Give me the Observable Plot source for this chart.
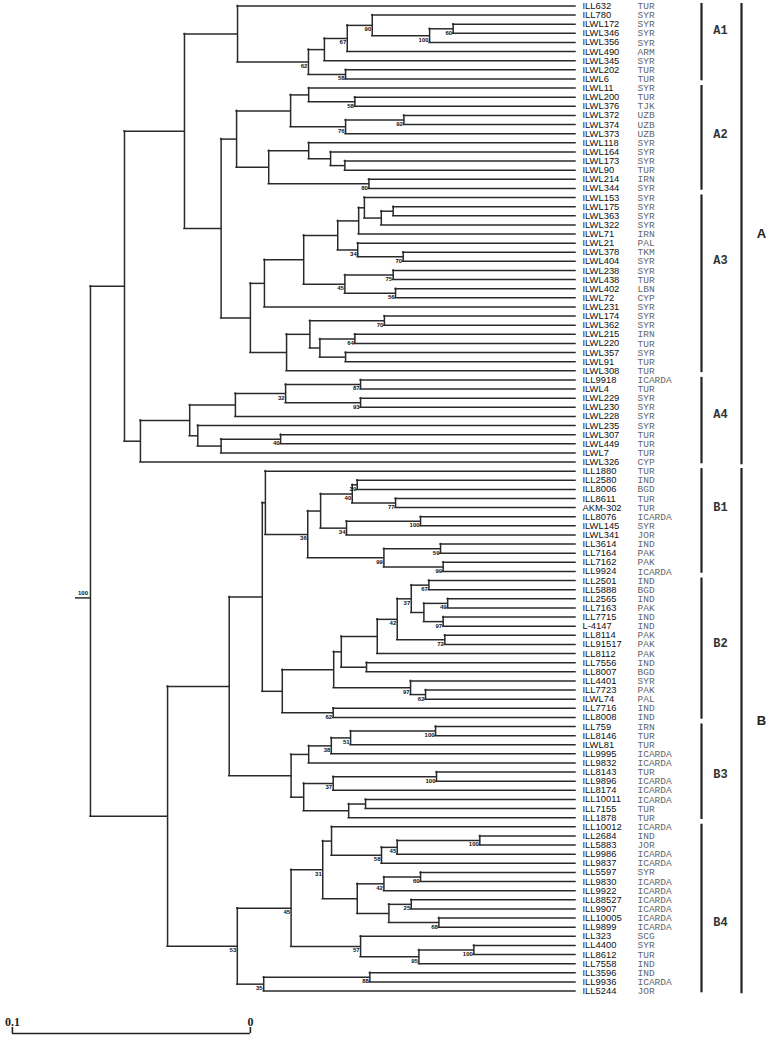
<!DOCTYPE html>
<html><head><meta charset="utf-8">
<script src="https://cdn.jsdelivr.net/npm/d3@7"></script>
<script src="https://cdn.jsdelivr.net/npm/@observablehq/plot@0.6"></script>
<style>html,body{margin:0;padding:0;background:#fff;} #chart svg{display:block;background:#fff;-webkit-font-smoothing:antialiased;}</style>
</head><body><div id="chart"></div>
<script>
// ---------- DATA ----------
const names = [
  "ILL632","ILL780","ILWL172","ILWL346","ILWL356","ILWL490","ILWL345","ILWL202","ILWL6",
  "ILWL11","ILWL200","ILWL376","ILWL372","ILWL374","ILWL373","ILWL118","ILWL164","ILWL173","ILWL90","ILWL214","ILWL344",
  "ILWL153","ILWL175","ILWL363","ILWL322","ILWL71","ILWL21","ILWL378","ILWL404","ILWL238","ILWL438","ILWL402","ILWL72","ILWL231","ILWL174","ILWL362","ILWL215","ILWL220","ILWL357","ILWL91","ILWL308",
  "ILL9918","ILWL4","ILWL229","ILWL230","ILWL228","ILWL235","ILWL307","ILWL449","ILWL7","ILWL326",
  "ILL1880","ILL2580","ILL8006","ILL8611","AKM-302","ILL8076","ILWL145","ILWL341","ILL3614","ILL7164","ILL7162","ILL9924",
  "ILL2501","ILL5888","ILL2565","ILL7163","ILL7715","L-4147","ILL8114","ILL91517","ILL8112","ILL7556","ILL8007","ILL4401","ILL7723","ILWL74","ILL7716","ILL8008",
  "ILL759","ILL8146","ILWL81","ILL9995","ILL9832","ILL8143","ILL9896","ILL8174","ILL10011","ILL7155","ILL1878",
  "ILL10012","ILL2684","ILL5883","ILL9986","ILL9837","ILL5597","ILL9830","ILL9922","ILL88527","ILL9907","ILL10005","ILL9899","ILL323","ILL4400","ILL8612","ILL7558","ILL3596","ILL9936","ILL5244"
];
const origins = [
  "TUR","SYR","SYR","SYR","SYR","ARM","SYR","TUR","TUR",
  "SYR","TUR","TJK","UZB","UZB","UZB","SYR","SYR","SYR","TUR","IRN","SYR",
  "SYR","SYR","SYR","SYR","IRN","PAL","TKM","SYR","SYR","TUR","LBN","CYP","SYR","SYR","SYR","IRN","TUR","SYR","TUR","TUR",
  "ICARDA","TUR","SYR","SYR","SYR","SYR","TUR","TUR","TUR","CYP",
  "TUR","IND","BGD","TUR","TUR","ICARDA","SYR","JOR","IND","PAK","PAK","ICARDA",
  "IND","BGD","IND","PAK","IND","IND","PAK","PAK","PAK","IND","BGD","SYR","PAK","PAL","IND","IND",
  "IRN","TUR","TUR","ICARDA","ICARDA","TUR","ICARDA","ICARDA","ICARDA","TUR","TUR",
  "ICARDA","IND","JOR","ICARDA","ICARDA","SYR","ICARDA","ICARDA","ICARDA","ICARDA","ICARDA","ICARDA","SCG","SYR","TUR","IND","IND","ICARDA","JOR"
];
// tree: [distance of node from the tips, bootstrap, ...children]; leaves are names
const tree =
[0.2038, 100,
  [0.1895, null,
    [0.1643, null,
      [0.1420, null, "ILL632",
        [0.1122, 62,
          [0.1055, null,
            [0.0959, 67,
              [0.0854, 90, "ILL780",
                [0.0613, 100, [0.0514, 60, "ILWL172", "ILWL346"], "ILWL356"]],
              "ILWL490"],
            "ILWL345"],
          [0.0966, 58, "ILWL202", "ILWL6"]]],
      [0.1489, null,
        [0.1424, null,
          [0.1197, null,
            [0.1121, null, "ILWL11", [0.0927, 58, "ILWL200", "ILWL376"]],
            [0.0966, 76, [0.0721, 92, "ILWL372", "ILWL374"], "ILWL373"]],
          [0.1289, null,
            [0.1121, null, "ILWL118", [0.1029, null, "ILWL164", [0.0969, null, "ILWL173", "ILWL90"]]],
            [0.0868, 80, "ILWL214", "ILWL344"]]],
        [0.1366, null,
          [0.1307, null,
            [0.1142, null,
              [0.0999, null,
                [0.0911, null,
                  [0.0887, null, "ILWL153", [0.0816, null, [0.0766, null, "ILWL175", "ILWL363"], "ILWL322"]],
                  "ILWL71"],
                [0.0915, 34, "ILWL21", [0.0724, 70, "ILWL378", "ILWL404"]]],
              [0.0969, 45, [0.0766, 75, "ILWL238", "ILWL438"], [0.0756, 56, "ILWL402", "ILWL72"]]],
            "ILWL231"],
          [0.1214, null,
            [0.1116, null,
              [0.0803, 70, "ILWL174", "ILWL362"],
              [0.1074, null, [0.0927, 64, "ILWL215", "ILWL220"], [0.0966, null, "ILWL357", "ILWL91"]]],
            "ILWL308"]]]],
    [0.1828, null,
      [0.1621, null,
        [0.1429, null,
          [0.1218, 32, [0.0903, 87, "ILL9918", "ILWL4"], [0.0903, 93, "ILWL229", "ILWL230"]],
          "ILWL228"],
        [0.1587, null, "ILWL235",
          [0.1489, null, [0.1239, 40, "ILWL307", "ILWL449"], "ILWL7"]]],
      "ILWL326"]],
  [0.1714, null,
    [0.1455, null,
      [0.1316, null,
        [0.1303, null, "ILL1880",
          [0.1125, 36,
            [0.1071, null,
              [0.0938, 40, [0.0917, 39, "ILL2580", "ILL8006"], [0.0756, 77, "ILL8611", "AKM-302"]],
              [0.0962, 34, [0.0651, 100, "ILL8076", "ILWL145"], "ILWL341"]],
            [0.0805, 99, [0.0567, 59, "ILL3614", "ILL7164"], [0.0556, 99, "ILL7162", "ILL9924"]]]],
        [0.1232, null,
          [0.1016, null,
            [0.0984, null,
              [0.0833, null,
                [0.0749, 42,
                  [0.0690, 37, [0.0616, 67, "ILL2501", "ILL5888"],
                    [0.0637, null, [0.0537, 49, "ILL2565", "ILL7163"], [0.0556, 97, "ILL7715", "L-4147"]]],
                  [0.0549, 72, "ILL8114", "ILL91517"]],
                "ILL8112"],
              [0.0878, null, "ILL7556", "ILL8007"]],
            [0.0693, 97, "ILL4401", [0.0630, 62, "ILL7723", "ILWL74"]]],
          [0.1018, 62, "ILL7716", "ILL8008"]]],
      [0.1195, null,
        [0.1121, null,
          [0.1026, 38, [0.0945, 51, [0.0588, 100, "ILL759", "ILL8146"], "ILWL81"], "ILL9995"],
          "ILL9832"],
        [0.1142, null,
          [0.1018, 37, [0.0584, 100, "ILL8143", "ILL9896"], "ILL8174"],
          [0.0953, null, [0.0882, null, "ILL10011", "ILL7155"], "ILL1878"]]]],
    [0.1421, 53,
      [0.1195, 45,
        [0.1062, 31,
          [0.1025, null, "ILL10012",
            [0.0815, 58, [0.0749, 45, [0.0402, 100, "ILL2684", "ILL5883"], "ILL9986"], "ILL9837"]],
          [0.0917, null,
            [0.0805, 42, [0.0651, 60, "ILL5597", "ILL9830"], "ILL9922"],
            [0.0784, null, [0.0690, 25, "ILL88527", "ILL9907"], [0.0574, 68, "ILL10005", "ILL9899"]]]],
        [0.0903, 57, "ILL323", [0.0658, 95, [0.0427, 100, "ILL4400", "ILL8612"], "ILL7558"]]],
      [0.1310, 35, [0.0864, 88, "ILL3596", "ILL9936"], "ILL5244"]]]];

const clusters = ["A1","A2","A3","A4","B1","B2","B3","B4"];
const clusterFirst = ["ILL632","ILWL11","ILWL153","ILL9918","ILL1880","ILL2501","ILL759","ILL10012"];
const clusterLast  = ["ILWL6","ILWL344","ILWL308","ILWL326","ILL9924","ILL8008","ILL1878","ILL5244"];
const groups = ["A","B"];
const groupFirst = ["ILL632","ILL1880"];
const groupLast = ["ILWL326","ILL5244"];
const scaleLength = 0.1;
const scaleLabels = ["0.1","0"];

// ---------- LAYOUT ----------
const rowOf = n => { const r = names.indexOf(n); if (r < 0) throw new Error("missing leaf " + n); return r; };
const vLines = [], hLines = [], boots = [];
let rootBoot = null;
function walk(n, isRoot) {
  if (typeof n === "string") return {row: rowOf(n), h: 0};
  const [h, b, ...kids] = n;
  const ks = kids.map(k => walk(k, false));
  const r1 = ks[0].row, r2 = ks[ks.length - 1].row;
  const row = (r1 + r2) / 2;
  vLines.push({h, r1, r2});
  ks.forEach(k => hLines.push({row: k.row, h1: h, h2: k.h}));
  if (b != null) { if (isRoot) rootBoot = b; else boots.push({h, row, b: String(b)}); }
  return {row, h};
}
const root = walk(tree, true);
const rootStemRow = 64.9;          // where the root stub is drawn
const rootStemStart = root.h + 0.0063;
const scaleBarStart = 0.2366;
const scaleRow = 112.66;

const clusterData = clusters.map((c, i) => ({c, r1: rowOf(clusterFirst[i]), r2: rowOf(clusterLast[i])}));
const clusterLabelShift = [-1.3, -0.5, -2.6, -0.8, -1.6, -0.6, 0.2, 1.5];
const groupData = groups.map((g, i) => ({g, r1: rowOf(groupFirst[i]), r2: rowOf(groupLast[i])}));

const LINE = "#2a2a2a";
const LW = 1.5;
const chart = Plot.plot({
  width: 778, height: 1038, margin: 0,
  x: {domain: [0.2416, 0], range: [0, 575], axis: null},
  y: {domain: [0, 108], range: [5.5, 990.5], axis: null},
  style: {background: "#fff"},
  marks: [
    Plot.ruleX(vLines, {x: "h", y1: "r1", y2: "r2", stroke: LINE, strokeWidth: LW, strokeLinecap: "square"}),
    Plot.ruleY(hLines, {y: "row", x1: "h1", x2: "h2", stroke: LINE, strokeWidth: LW, strokeLinecap: "square"}),
    Plot.ruleY([rootStemRow], {y: d => d, x1: () => rootStemStart, x2: () => root.h, stroke: LINE, strokeWidth: LW}),
    Plot.text([String(rootBoot)], {x: () => (rootStemStart + root.h) / 2, y: () => rootStemRow, text: d => d, dy: -5,
      fontSize: 6, fontWeight: "bold", fontFamily: "Liberation Sans, Arial, sans-serif", fill: "#111"}),
    Plot.text(boots, {x: "h", y: "row", text: "b", dx: -1, dy: 4, textAnchor: "end",
      fontSize: 6, fontWeight: "bold", fontFamily: "Liberation Sans, Arial, sans-serif", fill: "#111"}),
    Plot.text(names, {x: () => 0, y: (d, i) => i, text: d => d, dx: 7, textAnchor: "start",
      fontSize: 9.4, fontFamily: "Liberation Sans, Arial, sans-serif", fill: "#111"}),
    Plot.text(origins, {x: () => 0, y: (d, i) => i, text: d => d, dx: 62, textAnchor: "start",
      fontSize: 9.5, fontFamily: "Liberation Mono, Courier New, monospace", fill: "#666"}),
    Plot.ruleX(clusterData, {x: () => 0, dx: 126, y1: d => d.r1 - 0.28, y2: d => d.r2 + 0.2, stroke: "#222", strokeWidth: 2.2}),
    Plot.text(clusterData, {x: () => 0, dx: 145, y: (d, i) => (d.r1 + d.r2) / 2 + clusterLabelShift[i], text: "c",
      fontSize: 12, fontWeight: "bold", fontFamily: "Liberation Mono, Courier New, monospace", fill: "#333"}),
    Plot.ruleX(groupData, {x: () => 0, dx: 166, y1: d => d.r1 - 0.28, y2: d => d.r2 + 0.3, stroke: "#222", strokeWidth: 2.2}),
    Plot.text(groupData, {x: () => 0, dx: 186, y: (d, i) => (d.r1 + d.r2) / 2 - (i ? 1.1 : 0), text: "g",
      fontSize: 13, fontWeight: "bold", fontFamily: "Liberation Sans, Arial, sans-serif", fill: "#222"}),
    Plot.ruleY([scaleRow], {y: d => d, x1: () => scaleBarStart, x2: () => scaleBarStart - scaleLength, stroke: "#222", strokeWidth: 1.6}),
    Plot.ruleX([scaleBarStart, scaleBarStart - scaleLength], {x: d => d, y1: () => scaleRow - 0.66, y2: () => scaleRow, stroke: "#222", strokeWidth: 1.6}),
    Plot.text(scaleLabels, {x: (d, i) => scaleBarStart - i * scaleLength, y: () => scaleRow - 1.2, text: d => d,
      fontSize: 12, fontWeight: "bold", fontFamily: "Liberation Serif, Times New Roman, serif", fill: "#222"})
  ]
});
document.getElementById("chart").appendChild(chart);
</script>
</body></html>
